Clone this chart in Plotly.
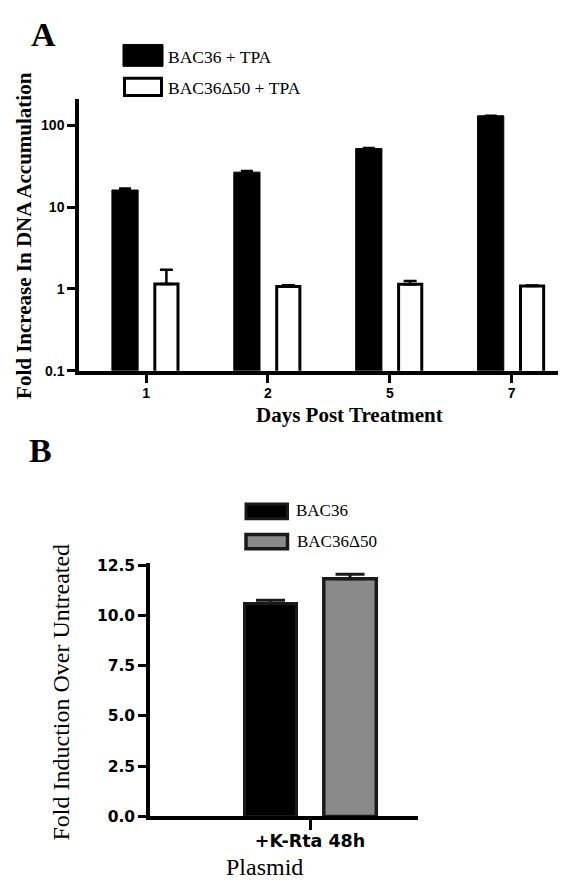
import plotly.graph_objects as go

# ---------------- data ----------------
days = ["1", "2", "5", "7"]
bac36_tpa = [16.2, 26.8, 52.0, 131.0]
bac36_tpa_err = [0.7, 0.8, 1.0, 0.0]
bac36d50_tpa = [1.15, 1.07, 1.14, 1.09]
bac36d50_tpa_err = [0.57, 0.04, 0.11, 0.01]

a_ytickvals = [0.1, 1, 10, 100]
a_yticktext = ["0.1", "1", "10", "100"]

b_category = ["+K-Rta 48h"]
bac36 = [10.6]
bac36_err = [0.16]
bac36d50 = [11.82]
bac36d50_err = [0.23]
b_ytickvals = [0, 2.5, 5, 7.5, 10, 12.5]

W, H = 566, 882


def px(x):
    return x / W


def py(y):
    return 1 - y / H


SERIF = "Liberation Serif"
SANS = "Liberation Sans"

fig = go.Figure()

# ---------------- panel A ----------------
fig.add_trace(go.Bar(
    x=days, y=bac36_tpa, name="BAC36 + TPA",
    xaxis="x", yaxis="y",
    width=0.215, offset=-0.28,
    marker=dict(color="black", line=dict(color="black", width=1)),
    error_y=dict(type="data", array=bac36_tpa_err, arrayminus=[0] * 4,
                 symmetric=False, color="black", thickness=2.5, width=6),
    showlegend=False,
))
fig.add_trace(go.Bar(
    x=days, y=bac36d50_tpa, name="BAC36Δ50 + TPA",
    xaxis="x", yaxis="y",
    width=0.19, offset=0.072,
    marker=dict(color="white", line=dict(color="black", width=3)),
    error_y=dict(type="data", array=bac36d50_tpa_err, arrayminus=[0] * 4,
                 symmetric=False, color="black", thickness=2.5, width=6.5),
    showlegend=False,
))

# ---------------- panel B ----------------
fig.add_trace(go.Bar(
    x=b_category, y=bac36, name="BAC36",
    xaxis="x2", yaxis="y2",
    width=0.26, offset=-0.3275,
    marker=dict(color="black", line=dict(color="#1a1a1a", width=3)),
    error_y=dict(type="data", array=bac36_err, arrayminus=[0],
                 symmetric=False, color="#1a1a1a", thickness=3, width=14.5),
    showlegend=False,
))
fig.add_trace(go.Bar(
    x=b_category, y=bac36d50, name="BAC36Δ50",
    xaxis="x2", yaxis="y2",
    width=0.2625, offset=0.069,
    marker=dict(color="#8a8a8a", line=dict(color="#1a1a1a", width=3.5)),
    error_y=dict(type="data", array=bac36d50_err, arrayminus=[0],
                 symmetric=False, color="#1a1a1a", thickness=3, width=14.5),
    showlegend=False,
))

axis_common = dict(showline=True, linecolor="black", linewidth=3.5,
                   showgrid=False, zeroline=False, ticks="outside",
                   tickcolor="black", tickwidth=3, fixedrange=True)

fig.update_layout(
    width=W, height=H,
    margin=dict(l=0, r=0, t=0, b=0),
    paper_bgcolor="white", plot_bgcolor="white",
    barmode="overlay",
    showlegend=False,
    xaxis=dict(axis_common, domain=[px(71), px(561)], anchor="y",
               type="category", range=[-0.55, 3.47], ticklen=9,
               ticklabelstandoff=-2,
               tickfont=dict(family=SANS, size=14, color="black", weight="bold")),
    yaxis=dict(axis_common, domain=[py(362.3), py(86)], anchor="x",
               type="log", range=[-1, 2.317], ticklen=8,
               tickvals=a_ytickvals, ticktext=a_yticktext,
               tickfont=dict(family=SANS, size=14, color="black", weight="bold")),
    xaxis2=dict(axis_common, domain=[px(142), px(410)], anchor="y2",
                type="category", range=[-0.8, 0.54], ticklen=10,
                ticklabelstandoff=-4,
                tickfont=dict(family="DejaVu Sans", size=17.5, color="black", weight="bold")),
    yaxis2=dict(axis_common, domain=[py(816.3), py(558.3)], anchor="x2",
                range=[0, 12.6], ticklen=8,
                tickvals=b_ytickvals, tickformat=".1f",
                tickfont=dict(family="DejaVu Sans", size=15.5, color="black", weight="bold")),
)

shapes = [
    # legend A
    dict(type="rect", xref="paper", yref="paper",
         x0=px(115), x1=px(155), y0=py(52.3), y1=py(30),
         fillcolor="black", line=dict(color="black", width=1)),
    dict(type="rect", xref="paper", yref="paper",
         x0=px(116.5), x1=px(153.5), y0=py(82), y1=py(64.5),
         fillcolor="white", line=dict(color="black", width=3)),
    # legend B
    dict(type="rect", xref="paper", yref="paper",
         x0=px(238), x1=px(279.5), y0=py(513), y1=py(498),
         fillcolor="black", line=dict(color="#1a1a1a", width=3)),
    dict(type="rect", xref="paper", yref="paper",
         x0=px(238), x1=px(279.5), y0=py(543.5), y1=py(529),
         fillcolor="#8a8a8a", line=dict(color="#1a1a1a", width=3.5)),
]
fig.update_layout(shapes=shapes)


def ann(text, x, y, size, family=SERIF, bold=False, xanchor="center",
        yanchor="middle", angle=0):
    return dict(text=text, x=px(x), y=py(y), xref="paper", yref="paper",
                showarrow=False, xanchor=xanchor, yanchor=yanchor,
                textangle=angle,
                font=dict(family=family, size=size, color="black",
                          weight="bold" if bold else "normal"))


annotations = [
    ann("A", 35.5, 20, 34, bold=True),
    ann("B", 32, 443.5, 34, bold=True),
    ann("BAC36 + TPA", 158, 43, 17.5, xanchor="left"),
    ann("BAC36Δ50 + TPA", 158, 74, 17.5, xanchor="left"),
    ann("Fold Increase In DNA Accumulation", 16, 225, 21, bold=True, angle=-90),
    ann("Days Post Treatment", 341.5, 407, 21, bold=True),
    ann("BAC36", 286, 505, 17, xanchor="left"),
    ann("BAC36Δ50", 287, 536, 17, xanchor="left"),
    ann("Fold Induction Over Untreated", 53, 690, 24, angle=-90),
    ann("Plasmid", 256, 868, 24),
]
fig.update_layout(annotations=annotations)

fig.write_html("out.html")
